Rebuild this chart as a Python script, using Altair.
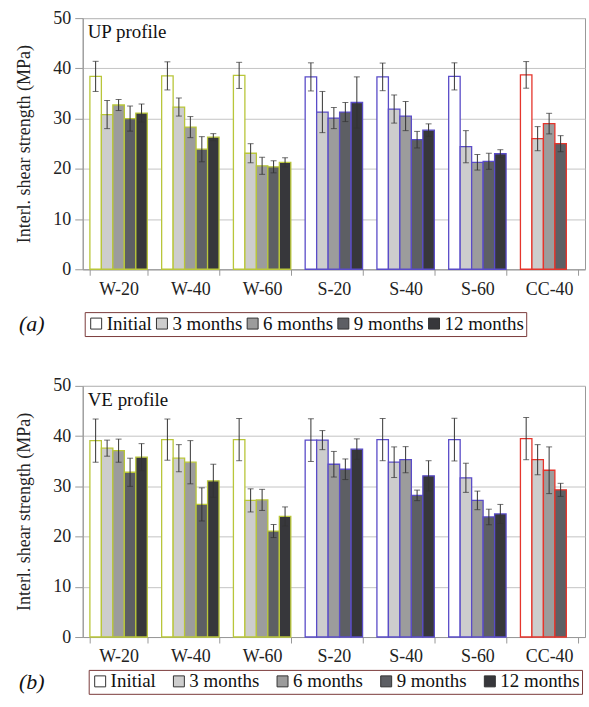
import altair as alt
import pandas as pd

FONT = "Liberation Serif, Times New Roman, DejaVu Serif, serif"

categories = ["W-20", "W-40", "W-60", "S-20", "S-40", "S-60", "CC-40"]
series = ["Initial", "3 months", "6 months", "9 months", "12 months"]
families = ["W", "S", "CC"]

# UP profile (panel a)
up_initial = [38.4, 38.5, 38.6, 38.3, 38.3, 38.4, 38.7]
up_initial_err = [3.0, 2.8, 2.6, 2.8, 2.75, 2.7, 2.65]
up_3m = [30.8, 32.3, 23.1, 31.3, 31.9, 24.4, 26.0]
up_3m_err = [2.8, 1.8, 1.9, 4.1, 2.8, 3.2, 2.4]
up_6m = [32.7, 28.3, 20.6, 30.1, 30.5, 21.3, 29.0]
up_6m_err = [1.1, 2.1, 1.7, 2.1, 2.9, 1.55, 2.05]
up_9m = [30.0, 23.9, 20.4, 31.3, 25.8, 21.5, 25.0]
up_9m_err = [2.5, 2.5, 1.2, 1.9, 1.65, 1.6, 1.6]
up_12m = [31.1, 26.3, 21.3, 33.2, 27.7, 23.0, None]
up_12m_err = [1.8, 0.7, 0.9, 5.1, 1.25, 0.8, None]

# VE profile (panel b)
ve_initial = [39.1, 39.3, 39.3, 39.2, 39.3, 39.3, 39.5]
ve_initial_err = [4.3, 4.1, 4.2, 4.25, 4.2, 4.25, 4.2]
ve_3m = [37.6, 35.6, 27.2, 39.2, 34.8, 31.7, 35.3]
ve_3m_err = [1.6, 2.7, 2.3, 1.9, 3.05, 2.9, 3.0]
ve_6m = [37.1, 34.8, 27.3, 34.4, 35.3, 27.2, 33.2]
ve_6m_err = [2.3, 4.3, 2.1, 2.55, 2.6, 1.85, 4.65]
ve_9m = [32.8, 26.4, 21.1, 33.4, 28.2, 23.9, 29.3]
ve_9m_err = [2.8, 3.3, 1.3, 2.05, 1.05, 1.55, 1.3]
ve_12m = [35.8, 31.1, 24.0, 37.4, 32.1, 24.5, None]
ve_12m_err = [2.7, 3.3, 1.9, 2.05, 3.0, 1.9, None]

fill_colors = ["#ffffff", "#cdcdcd", "#9c9c9c", "#5d5f64", "#37373b"]
stroke_colors = ["#b9c63a", "#5a4cc8", "#e5352c"]


def make_df(vals, errs):
    rows = []
    for s, v_list, e_list in zip(series, vals, errs):
        for c, v, e in zip(categories, v_list, e_list):
            if v is None:
                continue
            rows.append({"group": c, "series": s, "value": v, "err": e,
                         "family": c.split("-")[0]})
    return pd.DataFrame(rows)


df_up = make_df([up_initial, up_3m, up_6m, up_9m, up_12m],
                [up_initial_err, up_3m_err, up_6m_err, up_9m_err, up_12m_err])
df_ve = make_df([ve_initial, ve_3m, ve_6m, ve_9m, ve_12m],
                [ve_initial_err, ve_3m_err, ve_6m_err, ve_9m_err, ve_12m_err])


def panel(df, label, tag, leg_x, leg_y, col_pad):
    base = alt.Chart(df).transform_calculate(
        lo="datum.value - datum.err", hi="datum.value + datum.err"
    ).encode(
        x=alt.X("group:N", sort=categories,
                scale=alt.Scale(paddingInner=0.2, paddingOuter=0.1),
                axis=alt.Axis(title=None, labelFont=FONT, labelFontSize=18,
                              labelColor="#222", labelAngle=0, labelPadding=5,
                              tickBand="extent", ticks=True, tickSize=6,
                              tickColor="#999", domainColor="#999", grid=False)),
        xOffset=alt.XOffset("series:N", sort=series,
                            scale=alt.Scale(domain=series, paddingInner=0, paddingOuter=0)),
    )
    bars = base.mark_bar(strokeWidth=1.3).encode(
        y=alt.Y("value:Q", scale=alt.Scale(domain=[0, 50]),
                axis=alt.Axis(values=list(range(0, 51, 5)),
                              title="Interl. shear strength (MPa)")),
        fill=alt.Fill("series:N", sort=series,
                      scale=alt.Scale(domain=series, range=fill_colors),
                      legend=alt.Legend(
                          title=None, orient="none", legendX=leg_x, legendY=leg_y,
                          direction="horizontal", columns=5, gridAlign="none",
                          symbolType="square", symbolSize=121,
                          symbolStrokeColor="#333", symbolStrokeWidth=1,
                          labelFont=FONT, labelFontSize=19, labelColor="#111",
                          labelOffset=1, columnPadding=col_pad, padding=2,
                          strokeColor="#7a3a3a", fillColor="white")),
        stroke=alt.Stroke("family:N",
                          scale=alt.Scale(domain=families, range=stroke_colors),
                          legend=None),
    )
    rules = base.mark_rule(color="#333", strokeWidth=1).encode(
        y=alt.Y("lo:Q"), y2="hi:Q")
    caps_lo = base.mark_tick(color="#333", thickness=1, size=6).encode(y=alt.Y("lo:Q"))
    caps_hi = base.mark_tick(color="#333", thickness=1, size=6).encode(y=alt.Y("hi:Q"))
    txt = alt.Chart(pd.DataFrame({"t": [label]})).mark_text(
        font=FONT, fontSize=19, align="left", baseline="middle", color="#111"
    ).encode(x=alt.value(5), y=alt.value(14), text="t:N")
    tg = alt.Chart(pd.DataFrame({"t": [tag]})).mark_text(
        font=FONT, fontSize=22, fontStyle="italic", align="left",
        baseline="middle", color="#111"
    ).encode(x=alt.value(-64), y=alt.value(leg_y + 12), text="t:N")
    return alt.layer(bars, rules, caps_lo, caps_hi, txt, tg).properties(
        width=504, height=252)


chart = alt.vconcat(
    panel(df_up, "UP profile", "(a)", 2, 295, 0),
    panel(df_ve, "VE profile", "(b)", 6, 285, 13),
    spacing=39,
).resolve_legend(fill="independent").resolve_scale(fill="independent").properties(
    padding={"left": 15, "top": 7, "right": 3, "bottom": 0},
    background="white",
).configure_view(
    stroke="#999", strokeWidth=1
).configure_axisY(
    labelFont=FONT, labelFontSize=18, labelColor="#222", labelPadding=4,
    tickSize=8, tickColor="#999", domainColor="#999",
    gridColor="#c4c4c4", gridWidth=1,
    titleFont=FONT, titleFontSize=18, titleFontWeight="normal",
    titleColor="#222", titlePadding=19,
)

chart.save("out.html", embed_options={"renderer": "svg", "actions": False})
